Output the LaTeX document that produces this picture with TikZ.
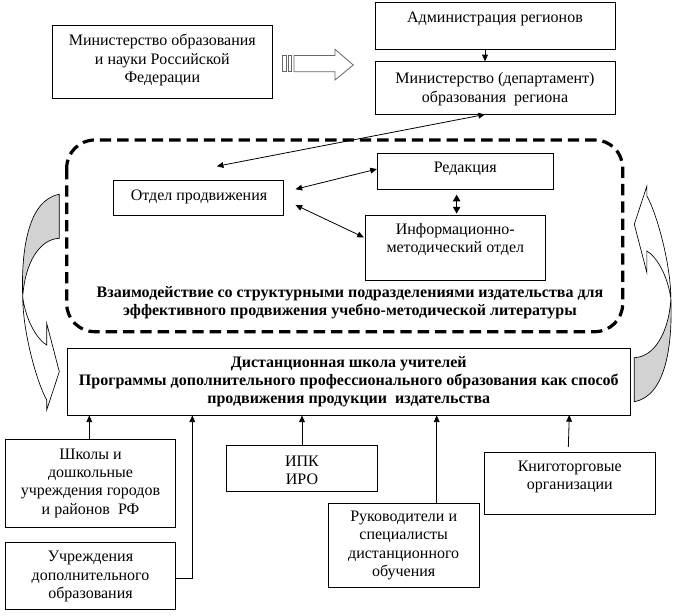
\documentclass[tikz,border=0pt]{standalone}
\usepackage{fontspec}
\setmainfont{Liberation Serif}
\usetikzlibrary{arrows.meta,calc}
\begin{document}
\begin{tikzpicture}[x=0.75pt,y=-0.75pt,
  boxs/.style={draw, line width=0.6pt, inner sep=0pt},
  txt/.style={align=center, inner sep=0pt, font=\fontsize{12}{13.75}\selectfont},
  btxt/.style={txt, font=\fontsize{12}{13.75}\selectfont\bfseries},
  arr/.style={line width=0.6pt, -{Triangle[length=5pt,width=4.3pt]}},
  darr/.style={line width=0.6pt, {Triangle[length=5pt,width=4.3pt]}-{Triangle[length=5pt,width=4.3pt]}},
  bigdarr/.style={line width=0.8pt, {Triangle[length=5pt,width=5.5pt]}-{Triangle[length=5pt,width=5.5pt]}},
  grpline/.style={line width=2.4pt, dash pattern=on 8.5pt off 4.5pt, rounded corners=21pt},
  blockline/.style={draw=black!60, fill=white, line width=0.6pt},
  curvarr/.pic={
    \draw[fill=gray!35, line width=0.5pt] (59.3,194.3) -- (59.3,238.3)
      .. controls (40,239) and (25,262) .. (22.7,297)
      .. controls (21,250) and (28,200) .. (59.3,194.3) -- cycle;
    \draw[fill=white, line width=0.5pt] (22.7,297)
      .. controls (23,335) and (38,385) .. (46.7,400)
      -- (46.7,410) -- (59.3,371.7) -- (46.7,323.3) -- (46.7,345)
      .. controls (38,340) and (26,322) .. (22.7,297) -- cycle;
  }]
\useasboundingbox (0,0) rectangle (679,615);

% top boxes
\node[boxs, minimum width=165pt, minimum height=55pt] (mrf) at (162.3,61.7) {};
\node[txt] (mrfT) at (162.3,60.3) {Министерство образования\\и науки Российской\\Федерации};
\node[boxs, minimum width=180pt, minimum height=35pt] (adm) at (495,26) {};
\node[txt] (admT) at (495,18.6) {Администрация регионов};
\node[boxs, minimum width=180pt, minimum height=39.2pt] (mreg) at (495,87.9) {};
\node[txt] (mregT) at (495,89) {Министерство (департамент)\\образования~ региона};

% block arrow
\draw[blockline] (294,55.5) -- (335,55.5) -- (335,49.3) -- (353.3,65) -- (335,80) -- (335,71.7) -- (294,71.7) -- cycle;
\draw[blockline] (282.7,55.5) rectangle (286.7,71.7);
\draw[blockline] (288.3,55.5) rectangle (291.7,71.7);

% group
\draw[grpline] (66.7,140) rectangle (622.7,331.7);
\node[boxs, minimum width=127.7pt, minimum height=26.25pt] (otd) at (198.2,197.5) {};
\node[txt] (otdT) at (199,196.5) {Отдел продвижения};
\node[boxs, minimum width=132pt, minimum height=27pt] (red) at (465.3,171.3) {};
\node[txt] (redT) at (465.3,169.3) {Редакция};
\node[boxs, minimum width=135.5pt, minimum height=48.75pt] (inf) at (455.3,247.5) {};
\node[txt] (infT) at (455.3,239.8) {Информационно-\\методический отдел};
\node[btxt] (grpT) at (350,302.5) {Взаимодействие со структурными подразделениями издательства для\\эффективного продвижения учебно-методической литературы};

% main box
\node[boxs, minimum width=421.7pt, minimum height=50pt] (main) at (348.8,381.7) {};
\node[btxt] (mainT) at (348.8,381.7) {Дистанционная школа учителей\\Программы дополнительного профессионального образования как способ\\продвижения продукции~ издательства};

% bottom boxes
\node[boxs, minimum width=127.2pt, minimum height=66pt] (shk) at (90.5,483.3) {};
\node[txt] (shkT) at (90.5,483) {Школы и\\дошкольные\\учреждения городов\\и районов~ РФ};
\node[boxs, minimum width=127.2pt, minimum height=50pt] (uch) at (90.5,575.7) {};
\node[txt] (uchT) at (90.5,576.7) {Учреждения\\дополнительного\\образования};
\node[boxs, minimum width=113pt, minimum height=34.5pt] (ipk) at (302,468) {};
\node[txt] (ipkT) at (302,470.5) {ИПК\\ИРО};
\node[boxs, minimum width=113pt, minimum height=63pt] (ruk) at (403.7,545.3) {};
\node[txt] (rukT) at (403.7,545.5) {Руководители и\\специалисты\\дистанционного\\обучения};
\node[boxs, minimum width=128.25pt, minimum height=46.5pt] (kni) at (569.8,483.3) {};
\node[txt] (kniT) at (569.8,477) {Книготорговые\\организации};

% curved arrows
\pic at (0,0) {curvarr};
\pic[rotate=180] at (693.6,596) {curvarr};

% connectors
\coordinate (admDown) at ([xshift=-7.5pt]adm.south);
\coordinate (mregIn) at ([xshift=-7.5pt]mreg.north);
\draw[arr] (admDown) -- (mregIn);
\coordinate (mregOut) at ([xshift=-7.5pt]mreg.south);
\coordinate (otdTop) at ([xshift=13.9pt,yshift=10pt]otd.north);
\draw[darr] (otdTop) -- (mregOut);
\coordinate (otdR1) at ([xshift=8.8pt,yshift=6.2pt]otd.east);
\coordinate (redL) at ([yshift=1.7pt]red.west);
\draw[darr] (otdR1) -- (redL);
\coordinate (otdR2) at ([xshift=8.8pt,yshift=-5.6pt]otd.east);
\coordinate (infL) at ([xshift=-0.5pt,yshift=7.6pt]inf.west);
\draw[darr] (otdR2) -- (infL);
\coordinate (redB) at ([xshift=-6.5pt,yshift=-3.7pt]red.south);
\coordinate (infT1) at ([xshift=1pt,yshift=0.8pt]inf.north);
\draw[bigdarr] (redB) -- (infT1);

\draw[arr] ([xshift=-0.9pt]shk.north) -- ([xshift=-0.9pt]shk.north |- main.south);
\coordinate (uchUp) at (192.3,415);
\draw[arr] ([yshift=-2pt]uch.east) -| (uchUp |- main.south);
\draw[arr] (ipk.north) -- (ipk.north |- main.south);
\draw[arr] ([xshift=24.75pt]ruk.north) -- ([xshift=24.75pt]ruk.north |- main.south);
\coordinate (kniTop) at ([xshift=-1.1pt,yshift=3.75pt]kni.north);
\coordinate (kniEnd) at (569.3,415);
\draw[arr] (kniTop) -- (kniEnd);
\end{tikzpicture}
\end{document}
